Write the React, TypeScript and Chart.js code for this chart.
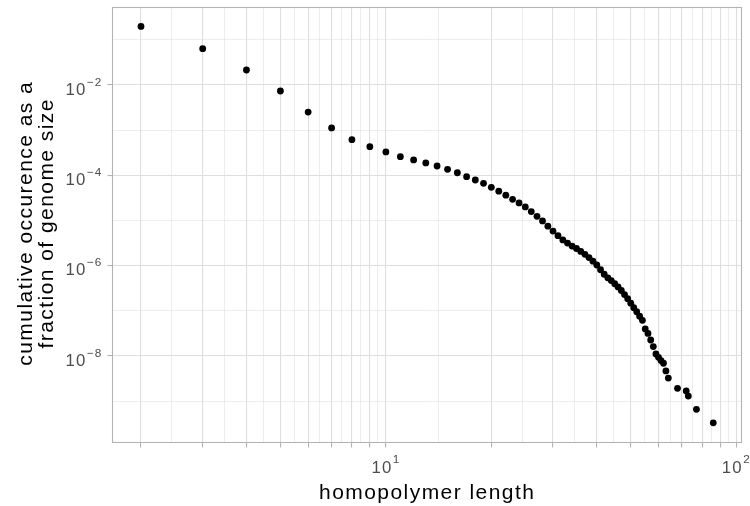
import React, { useEffect, useRef } from "react";
import { Chart, registerables } from "chart.js";

Chart.register(...registerables);

// ---- data ----
const LENGTHS = [
  2, 3, 4, 5, 6, 7, 8, 9, 10, 11, 12, 13, 14, 15, 16, 17, 18, 19, 20,
  21, 22, 23, 24, 25, 26, 27, 28, 29, 30, 31, 32, 33, 34, 35, 36, 37, 38, 39, 40,
  41, 42, 43, 44, 45, 46, 47, 48, 49, 50, 51, 52, 53, 54, 55, 56, 57, 58, 59, 60,
  61, 62, 63, 64, 68, 72, 73, 77, 86,
];
const FRACTIONS = [
  0.198, 0.0637, 0.0215, 0.00736, 0.00252, 0.00112, 6.15e-4, 4.3e-4, 3.29e-4, 2.59e-4,
  2.19e-4, 1.88e-4, 1.61e-4, 1.36e-4, 1.14e-4, 9.33e-5, 7.88e-5, 6.66e-5, 5.43e-5,
  4.47e-5, 3.63e-5, 2.95e-5, 2.45e-5, 2.0e-5, 1.58e-5, 1.24e-5, 9.77e-6, 7.5e-6, 5.82e-6,
  4.62e-6, 3.72e-6, 3.16e-6, 2.72e-6, 2.4e-6, 2.07e-6, 1.78e-6, 1.51e-6, 1.26e-6, 1.035e-6,
  8.13e-7, 6.46e-7, 5.37e-7, 4.68e-7, 3.98e-7, 3.39e-7, 2.82e-7, 2.29e-7, 1.86e-7, 1.48e-7,
  1.17e-7, 9.55e-8, 7.59e-8, 6.17e-8, 3.98e-8, 3.16e-8, 2.26e-8, 1.62e-8, 1.11e-8, 9.33e-9,
  7.94e-9, 6.92e-9, 4.68e-9, 3.24e-9, 1.93e-9, 1.68e-9, 1.3e-9, 6.61e-10, 3.31e-10,
];

// axis breaks / labels
const X_BREAKS = [1, 2, 3, 4, 5, 6, 7, 8, 9, 10, 20, 30, 40, 50, 60, 70, 80, 90, 100, 200];
const X_LABELLED = [10, 100];
const Y_BREAKS = [1, 1e-2, 1e-4, 1e-6, 1e-8, 1e-10];
const Y_LABELLED = [1e-2, 1e-4, 1e-6, 1e-8];
const X_LIMITS = [1.653, 103.2];
const Y_LIMITS = [1.186e-10, 0.5329];
const X_TITLE = "homopolymer length";
const Y_TITLE = ["cumulative occurence as a", "fraction of genome size"];

const FONT = '"Liberation Sans", Arial, Helvetica, sans-serif';

function withMinor(breaks: number[], lo: number, hi: number) {
  const out: any[] = [];
  for (let i = 0; i < breaks.length; i++) {
    const b = breaks[i];
    if (b >= lo && b <= hi) out.push({ value: b, minor: false });
    if (i < breaks.length - 1) {
      const m = Math.sqrt(b * breaks[i + 1]);
      if (m >= lo && m <= hi) out.push({ value: m, minor: true });
    }
  }
  return out.sort((a, b) => a.value - b.value);
}

function expLabel(v: number) {
  const e = Math.round(Math.log10(v));
  return e < 0 ? "\u2212" + Math.abs(e) : String(e);
}

function drawPow(ctx: any, exp: string, x: number, baseY: number, align: string, raise: number) {
  ctx.fillStyle = "#4D4D4D";
  ctx.textAlign = "left";
  ctx.textBaseline = "alphabetic";
  ctx.font = `16.8px ${FONT}`;
  ctx.letterSpacing = "1.1px";
  const w1 = ctx.measureText("10").width;
  ctx.font = `11.8px ${FONT}`;
  ctx.letterSpacing = "0.8px";
  const w2 = ctx.measureText(exp).width;
  const gap = 0.5;
  const total = w1 + gap + w2;
  const x0 = align === "center" ? x - total / 2 : x - total;
  ctx.font = `16.8px ${FONT}`;
  ctx.letterSpacing = "1.1px";
  ctx.fillText("10", x0, baseY);
  ctx.font = `11.8px ${FONT}`;
  ctx.letterSpacing = "0.8px";
  ctx.fillText(exp, x0 + w1 + gap, baseY - raise);
}

const ggTextPlugin = {
  id: "ggText",
  afterDraw(chart: any) {
    const ctx = chart.ctx;
    const { left, right, top, bottom } = chart.chartArea;
    const xs = chart.scales.x;
    const ys = chart.scales.y;
    ctx.save();
    // panel border
    ctx.strokeStyle = "#B3B3B3";
    ctx.lineWidth = 1.1;
    ctx.strokeRect(left + 0.5, top + 0.5, right - left, bottom - top - 1);

    // tick labels
    X_LABELLED.forEach((v) => {
      drawPow(ctx, expLabel(v), xs.getPixelForValue(v), 473.3, "center", 10);
    });
    Y_LABELLED.forEach((v) => {
      const py = ys.getPixelForValue(v);
      drawPow(ctx, expLabel(v), 102, py + 9.6, "right", 9);
    });

    // axis titles
    ctx.fillStyle = "#000000";
    ctx.font = `21px ${FONT}`;
    ctx.letterSpacing = "1.45px";
    ctx.textAlign = "center";
    ctx.textBaseline = "alphabetic";
    ctx.fillText(X_TITLE, (left + right) / 2 + 0.7, 499.3);

    const cy = (top + bottom) / 2 - 1;
    const baselines = [31.5, 53];
    Y_TITLE.forEach((line, i) => {
      ctx.save();
      ctx.translate(baselines[i], cy);
      ctx.rotate(-Math.PI / 2);
      ctx.fillText(line, 0.7, 0);
      ctx.restore();
    });
    ctx.letterSpacing = "0px";
    ctx.restore();
  },
};

export default function App() {
  const ref = useRef<HTMLCanvasElement | null>(null);

  useEffect(() => {
    if (!ref.current) return;
    const points = LENGTHS.map((x, i) => ({ x, y: FRACTIONS[i] }));
    const gridColor = "#DEDEDE";
    const tickColor = "#B3B3B3";
    const gridOpts = {
      color: gridColor,
      lineWidth: (c: any) => (c.tick && c.tick.minor ? 0.55 : 1.1),
      drawTicks: true,
      tickLength: 4.5,
      tickWidth: 1.1,
      tickColor: (c: any) => (c.tick && c.tick.minor ? "rgba(0,0,0,0)" : tickColor),
    };
    const chart = new Chart(ref.current, {
      type: "scatter",
      data: {
        datasets: [
          {
            data: points,
            backgroundColor: "#000000",
            borderWidth: 0,
            pointRadius: 3.4,
            pointHoverRadius: 3.4,
          },
        ],
      },
      plugins: [ggTextPlugin],
      options: {
        animation: false,
        responsive: false,
        devicePixelRatio: 1,
        events: [],
        layout: { padding: { left: 0, top: 7, right: 9, bottom: 0 } },
        plugins: {
          legend: { display: false },
          tooltip: { enabled: false },
          title: { display: false },
        },
        scales: {
          x: {
            type: "logarithmic",
            position: "bottom",
            min: X_LIMITS[0],
            max: X_LIMITS[1],
            bounds: "data",
            border: { display: false },
            grid: gridOpts,
            ticks: { display: false, autoSkip: false },
            afterBuildTicks: (scale: any) => {
              scale.ticks = withMinor(X_BREAKS, X_LIMITS[0], X_LIMITS[1]);
            },
            afterFit: (scale: any) => {
              scale.height = 63;
            },
          },
          y: {
            type: "logarithmic",
            position: "left",
            min: Y_LIMITS[0],
            max: Y_LIMITS[1],
            bounds: "data",
            border: { display: false },
            grid: gridOpts,
            ticks: { display: false, autoSkip: false },
            afterBuildTicks: (scale: any) => {
              scale.ticks = withMinor(Y_BREAKS, Y_LIMITS[0], Y_LIMITS[1]);
            },
            afterFit: (scale: any) => {
              scale.width = 112;
            },
          },
        },
      } as any,
    });
    return () => chart.destroy();
  }, []);

  return (
    <div style={{ position: "absolute", left: 0, top: 0, width: 750, height: 506, background: "#FFFFFF" }}>
      <canvas ref={ref} width={750} height={506} style={{ width: 750, height: 506, display: "block" }} />
    </div>
  );
}
